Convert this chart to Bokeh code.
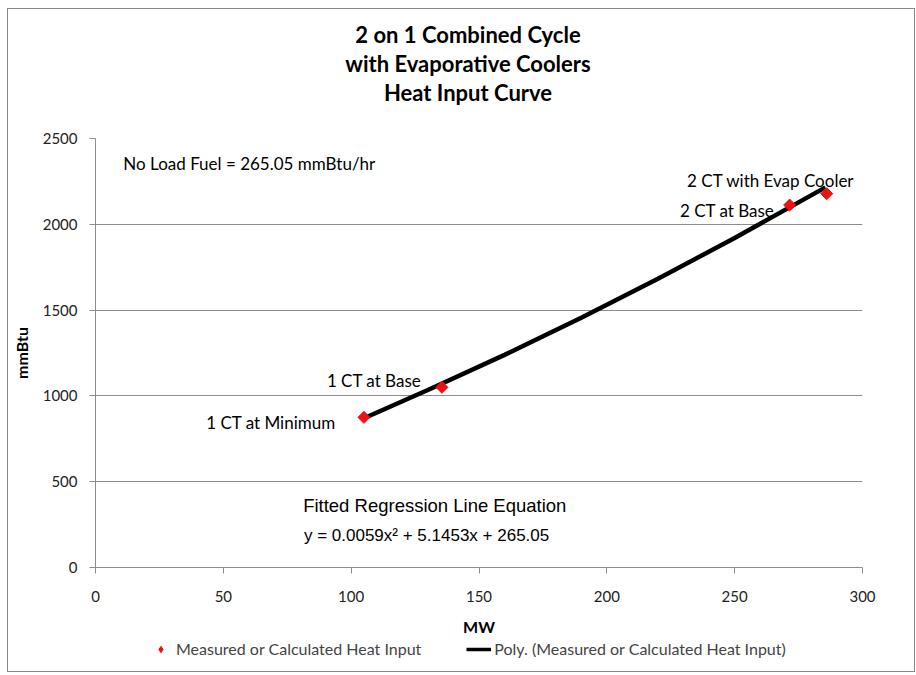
import math
from bokeh.plotting import figure
from bokeh.layouts import column
from bokeh.models import Label, Legend, LegendItem, ColumnDataSource, Range1d, FixedTicker
from bokeh.embed import file_html
from bokeh.resources import INLINE

# ---- data ----
point_names = ["1 CT at Minimum", "1 CT at Base", "2 CT at Base", "2 CT with Evap Cooler"]
point_mw = [105, 135.5, 271.5, 286]
point_mmbtu = [875, 1050, 2112, 2178]

# fitted polynomial trend line
trend_mw = [105, 130, 160, 190, 220, 250, 285.5]
trend_mmbtu = [870, 1034, 1239, 1456, 1683, 1920, 2215]

x_ticks = [0, 50, 100, 150, 200, 250, 300]
y_ticks = [0, 500, 1000, 1500, 2000, 2500]

title_lines = ["2 on 1 Combined Cycle", "with Evaporative Coolers", "Heat Input Curve"]
legend_labels = ["Measured or Calculated Heat Input", "Poly. (Measured or Calculated Heat Input)"]

FONT = "Lato"
GRID = "#8c8c8c"
RED = "#ee1111"
W = 906
TOP_H = 109
MAIN_H = 521
LEG_H = 32

# ---------------- title strip ----------------
top = figure(width=W, height=TOP_H, output_backend="svg", toolbar_location=None,
             x_range=Range1d(0, W), y_range=Range1d(0, TOP_H),
             x_axis_type=None, y_axis_type=None,
             min_border_left=0, min_border_right=0, min_border_top=0, min_border_bottom=0)
top.outline_line_color = None
for yy, line in zip([84, 55, 26], title_lines):
    top.add_layout(Label(x=440, y=yy, text=line, text_font=FONT, text_font_size="22px",
                         text_font_style="bold", text_align="center", text_baseline="middle",
                         text_color="black"))

# ---------------- main chart ----------------
p = figure(width=W, height=MAIN_H, output_backend="svg", toolbar_location=None,
           x_range=Range1d(0, 300), y_range=Range1d(0, 2500),
           min_border_left=85, min_border_right=W - 854, min_border_top=20, min_border_bottom=72)
p.outline_line_color = None

p.xaxis.ticker = FixedTicker(ticks=x_ticks)
p.yaxis.ticker = FixedTicker(ticks=y_ticks)
for ax in (p.xaxis[0], p.yaxis[0]):
    ax.axis_line_color = GRID
    ax.major_tick_line_color = GRID
    ax.major_tick_in = 0
    ax.major_tick_out = 6
    ax.minor_tick_line_color = None
    ax.major_label_text_font = FONT
    ax.major_label_text_font_size = "15px"
    ax.major_label_text_color = "#222222"
    ax.axis_label_text_font = FONT
    ax.axis_label_text_font_style = "bold"
    ax.axis_label_text_font_size = "16px"
    ax.axis_label_text_color = "black"
p.xaxis.major_label_standoff = 17
p.yaxis.major_label_standoff = 12
p.xaxis.axis_label = "MW"
p.yaxis.axis_label = "mmBtu"
p.xaxis.axis_label_standoff = 12
p.yaxis.axis_label_standoff = 9

p.xgrid.grid_line_color = None
p.ygrid.grid_line_color = GRID
p.ygrid.ticker = FixedTicker(ticks=y_ticks)

p.line(trend_mw, trend_mmbtu, line_color="black", line_width=4.5)
src = ColumnDataSource(dict(x=point_mw, y=point_mmbtu, name=point_names))
p.scatter("x", "y", source=src, marker="square", size=8.5, angle=math.pi / 4,
          fill_color=RED, line_color=RED)

def add_text(x, y, text, size="17px", font=FONT, align="left"):
    p.add_layout(Label(x=x, y=y, text=text, text_font=font, text_font_size=size,
                       text_align=align, text_baseline="middle", text_color="black"))

add_text(10.9, 2354, "No Load Fuel = 265.05 mmBtu/hr")
add_text(231.4, 2255, point_names[3])
add_text(228.6, 2080, point_names[2])
add_text(90.5, 1090, point_names[1])
add_text(43.3, 845, point_names[0])
add_text(132.7, 361, "Fitted Regression Line Equation", size="18.5px",
         font="Liberation Sans", align="center")
add_text(129.5, 186, "y = 0.0059x\u00b2 + 5.1453x + 265.05", size="17px",
         font="Liberation Sans", align="center")

# ---------------- legend strip ----------------
leg = figure(width=W, height=LEG_H, output_backend="svg", toolbar_location=None,
             x_range=Range1d(0, 300), y_range=Range1d(0, 2500),
             x_axis_type=None, y_axis_type=None,
             min_border_left=0, min_border_right=0, min_border_top=0, min_border_bottom=0)
leg.outline_line_color = None
r_pts = leg.scatter(point_mw, point_mmbtu, marker="diamond", size=10,
                    fill_color=RED, line_color=RED, visible=False)
r_line = leg.line(trend_mw, trend_mmbtu, line_color="black", line_width=3.5, visible=False)
legend = Legend(items=[LegendItem(label=legend_labels[0], renderers=[r_pts]),
                       LegendItem(label=legend_labels[1], renderers=[r_line])],
                orientation="horizontal", location=(53, 13))
legend.label_text_font = FONT
legend.label_text_font_size = "16px"
legend.glyph_width = 25
legend.glyph_height = 16
legend.label_standoff = 3
legend.spacing = 45
legend.padding = 0
legend.margin = 0
legend.border_line_color = None
legend.background_fill_alpha = 0
legend.inactive_fill_alpha = 0
leg.add_layout(legend, "center")

layout = column(top, p, leg, spacing=0,
                styles={"margin-left": "7px", "margin-top": "8px",
                        "border": "1px solid #888888"})

open("out.html", "w").write(file_html(layout, INLINE))
